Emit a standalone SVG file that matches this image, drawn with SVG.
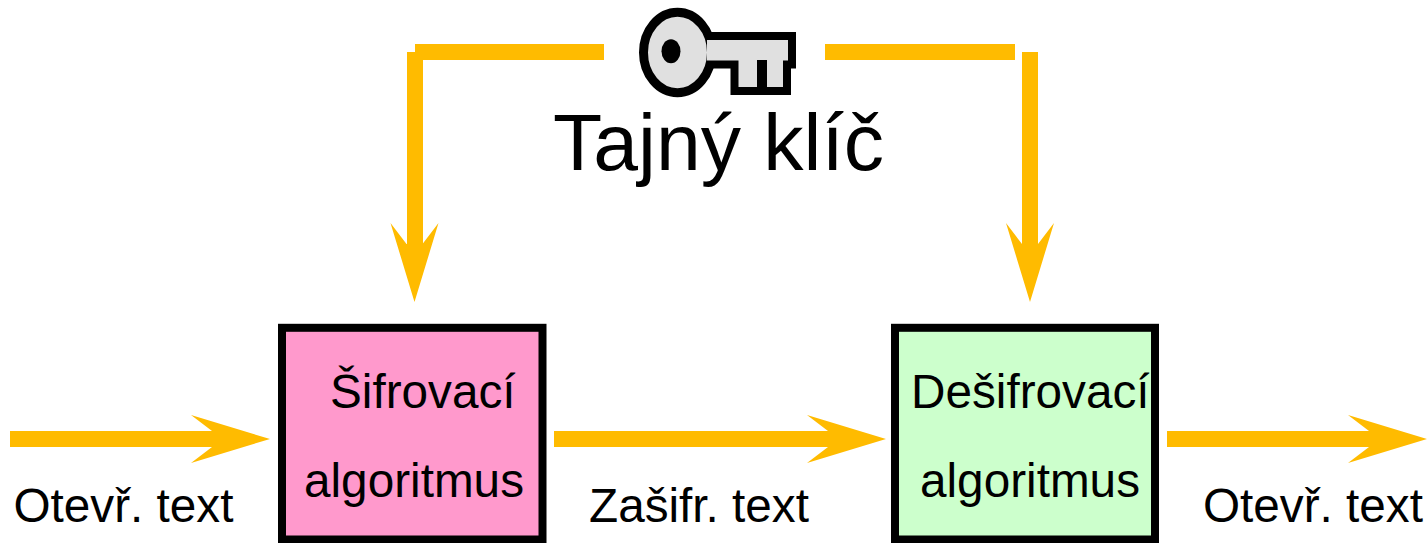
<svg xmlns="http://www.w3.org/2000/svg" width="1428" height="543" viewBox="0 0 1428 543">
<style>
text{font-family:"Liberation Sans",Arial,sans-serif;font-size:47.700px;fill:#000}
.title{font-size:80.500px}
.line{fill:#ffbb00;stroke:none}
.box{stroke:#000;stroke-width:8}
.key{fill:#e0e0e0;stroke:#000;stroke-width:8}
.head{stroke-width:9}
</style>
<defs>
<polygon id="ah" points="0,0 -79,-24 -58,-8 -58,8 -79,24" fill="#ffbb00"/>
</defs>
<rect width="1428" height="543" fill="#fff"/>
<g id="connectors">
<rect class="line" x="415" y="44" width="189" height="16"/>
<rect class="line" x="407" y="52" width="16" height="200"/>
<use href="#ah" transform="translate(414.500,302) rotate(90)"/>
<rect class="line" x="825" y="44" width="190" height="16"/>
<rect class="line" x="1022" y="52" width="16" height="200"/>
<use href="#ah" transform="translate(1030,302) rotate(90)"/>
<rect class="line" x="10" y="431" width="205" height="16"/>
<use href="#ah" transform="translate(270,439)"/>
<rect class="line" x="554" y="431" width="280" height="16"/>
<use href="#ah" transform="translate(886,439)"/>
<rect class="line" x="1167" y="431" width="210" height="16"/>
<use href="#ah" transform="translate(1427,439)"/>
</g>
<g id="key">
<ellipse class="key head" cx="677.500" cy="52.500" rx="34" ry="40.200"/>
<path class="key" d="M707 36H792V64.500H787V91H734.500V64.500H707"/>
<rect x="757" y="60" width="10" height="28" fill="#000"/>
<ellipse cx="671" cy="51.300" rx="9.500" ry="12" fill="#000"/>
<text class="title" x="553" y="170">Tajný klíč</text>
</g>
<g id="encrypt">
<rect class="box" x="282" y="327.800" width="260.500" height="211.700" fill="#ff99cc"/>
<text x="330" y="407.500">Šifrovací</text>
<text x="304" y="496.500">algoritmus</text>
</g>
<g id="decrypt">
<rect class="box" x="895" y="327.800" width="260" height="211.700" fill="#ccffcc"/>
<text x="911" y="407.500">Dešifrovací</text>
<text x="920" y="496.500">algoritmus</text>
</g>
<g id="labels">
<text x="13.500" y="521.500">Otevř. text</text>
<text x="589" y="521.500">Zašifr. text</text>
<text x="1203" y="521.500">Otevř. text</text>
</g>
</svg>
